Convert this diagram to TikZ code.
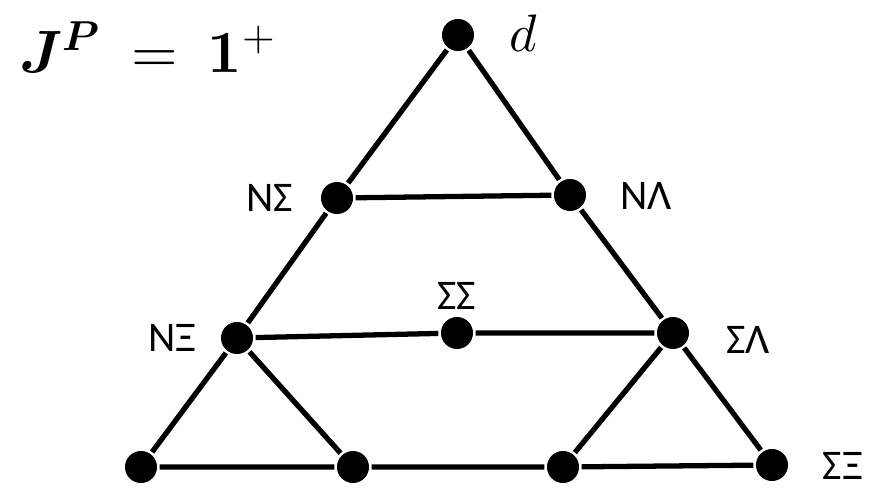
\documentclass[tikz,border=0pt]{standalone}
\usepackage{fontspec}
\setmainfont{Carlito}
\usepackage{unicode-math}
\setmathfont{Latin Modern Math}
\tikzset{dot/.style={circle,fill=black,inner sep=0pt,minimum size=0.32cm},
  lab/.style={font=\fontsize{12}{14}\selectfont}}
\begin{document}
\begin{tikzpicture}[x=0.01cm,y=-0.01cm,line width=1.5pt]
\useasboundingbox (0,0) rectangle (887,500);
% vertices
\node[dot] (d) at (458,35) {};
\node[dot] (ns) at (337,198) {};
\node[dot] (nl) at (570,195) {};
\node[dot] (nx) at (237,338) {};
\node[dot] (ss) at (457,333) {};
\node[dot] (sl) at (673,333) {};
\node[dot] (b1) at (141,467) {};
\node[dot] (b2) at (353,467) {};
\node[dot] (b3) at (563,467) {};
\node[dot] (sx) at (772,465) {};
% edges
\draw (d) -- (ns) -- (nx) -- (b1) -- (b2) -- (b3) -- (sx) -- (sl) -- (nl) -- (d);
\draw (ns) -- (nl);
\draw (nx) -- (ss) -- (sl);
\draw (nx) -- (b2);
\draw (sl) -- (b3);
% labels
\node[lab,anchor=west] (ld) at (495,33) {\fontsize{15}{16}\selectfont$d$};
\node[lab] (lns) at (270,198) {NΣ};
\node[lab] (lnl) at (646,196) {NΛ};
\node[lab] (lnx) at (172,338) {NΞ};
\node[lab] (lss) at (457,296) {ΣΣ};
\node[lab] (lsl) at (748,340) {ΣΛ};
\node[lab] (lsx) at (843,466) {ΣΞ};
\node[anchor=west] (title) at (5,48) {\fontsize{17}{20}\selectfont$\symbfit{J}^{\symbfit{P}}\ =\ \symbf{1}^{+}$};
\end{tikzpicture}
\end{document}
